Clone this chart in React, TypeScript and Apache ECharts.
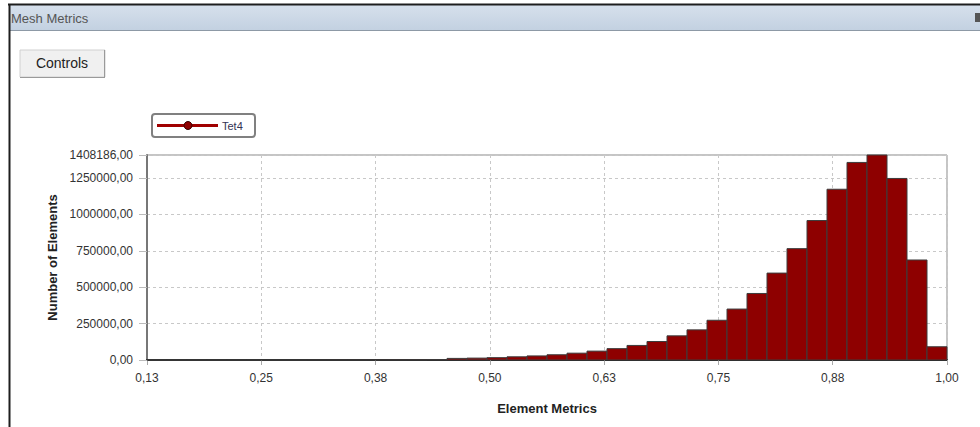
import React, { useEffect, useRef } from "react";
import * as echarts from "echarts";

const SERIES_NAME = "Tet4";
const X_TITLE = "Element Metrics";
const Y_TITLE = "Number of Elements";
const WINDOW_TITLE = "Mesh Metrics";
const BUTTON_LABEL = "Controls";

// histogram bins
const BIN_MIN = 0.125;
const BIN_WIDTH = 0.021875;
const counts = [
  20, 30, 40, 60, 80, 110, 150, 200, 280, 380,
  520, 700, 1000, 1500, 2400, 11000, 13000, 16000, 22000, 28000,
  36000, 47000, 61000, 78000, 100000, 127000, 166000, 207000, 273000, 350000,
  457000, 597000, 765000, 958000, 1173000, 1357000, 1408186, 1247000, 687000, 91000,
];

const X_MIN = 0.125;
const X_MAX = 1.0;
const X_INTERVAL = 0.125;
const Y_MIN = 0;
const Y_MAX = 1408186;
const Y_INTERVAL = 250000;

const fmt = (v: number) => v.toFixed(2).replace(".", ",");

export default function App() {
  const ref = useRef<HTMLDivElement>(null);
  useEffect(() => {
    document.body.style.margin = "0";
    if (!ref.current) return;
    const chart = echarts.init(ref.current, null, { renderer: "svg" });
    const data = counts.map((c, i) => [
      BIN_MIN + i * BIN_WIDTH,
      BIN_MIN + (i + 1) * BIN_WIDTH,
      c,
    ]);
    const font = "Liberation Sans";
    chart.setOption({
      animation: false,
      backgroundColor: "#ffffff",
      textStyle: { fontFamily: font },
      grid: {
        left: 147,
        top: 155,
        width: 800,
        height: 205,
        show: true,
        borderColor: "#8a8a8a",
        borderWidth: 1,
        backgroundColor: "transparent",
      },
      xAxis: {
        type: "value",
        min: X_MIN,
        max: X_MAX,
        interval: X_INTERVAL,
        name: X_TITLE,
        nameLocation: "middle",
        nameGap: 42,
        nameTextStyle: { fontWeight: "bold", fontSize: 13, color: "#222", fontFamily: font },
        axisLine: { show: true, onZero: false, lineStyle: { color: "#222", width: 2 } },
        axisTick: { show: true, length: 5, lineStyle: { color: "#aaa" } },
        axisLabel: { formatter: fmt, fontSize: 12, color: "#333", margin: 12, fontFamily: font },
        splitLine: { show: true, lineStyle: { color: "#c8c8c8", type: [3, 3] } },
      },
      yAxis: {
        type: "value",
        min: Y_MIN,
        max: Y_MAX,
        interval: Y_INTERVAL,
        name: Y_TITLE,
        nameLocation: "middle",
        nameGap: 82,
        nameTextStyle: { fontWeight: "bold", fontSize: 13, color: "#222", fontFamily: font },
        axisLine: { show: true, lineStyle: { color: "#777", width: 2 } },
        axisTick: { show: true, length: 8, lineStyle: { color: "#bbb" } },
        axisLabel: { formatter: fmt, fontSize: 12, color: "#333", margin: 14, fontFamily: font },
        splitLine: { show: true, lineStyle: { color: "#c8c8c8", type: [3, 3] } },
      },
      series: [
        {
          type: "custom",
          name: SERIES_NAME,
          data,
          encode: { x: [0, 1], y: 2 },
          renderItem: (params: any, api: any) => {
            const p0 = api.coord([api.value(0), api.value(2)]);
            const p1 = api.coord([api.value(1), 0]);
            return {
              type: "rect",
              shape: { x: p0[0], y: p0[1], width: p1[0] - p0[0], height: p1[1] - p0[1] },
              style: { fill: "#8e0000", stroke: "#3c3c3c", lineWidth: 1 },
            };
          },
        },
      ],
      graphic: [
        // title bar
        {
          type: "rect",
          shape: { x: 9, y: 5, width: 971, height: 25 },
          style: {
            fill: new echarts.graphic.LinearGradient(0, 0, 0, 1, [
              { offset: 0, color: "#d6e0ec" },
              { offset: 1, color: "#c3d1e1" },
            ]),
          },
        },
        { type: "line", shape: { x1: 9, y1: 30.5, x2: 980, y2: 30.5 }, style: { stroke: "#8d99a6", lineWidth: 1 } },
        { type: "line", shape: { x1: 8, y1: 4.5, x2: 980, y2: 4.5 }, style: { stroke: "#1e1e1e", lineWidth: 2 } },
        { type: "line", shape: { x1: 9.5, y1: 4, x2: 9.5, y2: 427 }, style: { stroke: "#1e1e1e", lineWidth: 2 } },
        {
          type: "text",
          x: 11,
          y: 18,
          style: { text: WINDOW_TITLE, fontSize: 13, fill: "#555", fontFamily: font, verticalAlign: "middle" },
        },
        { type: "rect", shape: { x: 975, y: 13, width: 5, height: 9 }, style: { fill: "#555" } },
        // Controls button
        { type: "rect", shape: { x: 20, y: 50, width: 85, height: 27 }, style: { fill: "#f0f0f0", stroke: "#d0d0d0", lineWidth: 1 } },
        { type: "line", shape: { x1: 104.5, y1: 50, x2: 104.5, y2: 77 }, style: { stroke: "#9a9a9a", lineWidth: 1 } },
        { type: "line", shape: { x1: 20, y1: 77.5, x2: 105, y2: 77.5 }, style: { stroke: "#9a9a9a", lineWidth: 1 } },
        {
          type: "text",
          x: 62,
          y: 63,
          style: { text: BUTTON_LABEL, fontSize: 14, fill: "#222", fontFamily: font, align: "center", verticalAlign: "middle" },
        },
        // legend
        {
          type: "rect",
          shape: { x: 152, y: 114, width: 103, height: 23, r: 3 },
          style: { fill: "#fff", stroke: "#808080", lineWidth: 2 },
        },
        { type: "line", shape: { x1: 157, y1: 125.5, x2: 218, y2: 125.5 }, style: { stroke: "#a00000", lineWidth: 3 } },
        { type: "circle", shape: { cx: 188, cy: 125.5, r: 4 }, style: { fill: "#8e0000", stroke: "#3a0000", lineWidth: 1 } },
        {
          type: "text",
          x: 222,
          y: 126,
          style: { text: SERIES_NAME, fontSize: 11, fill: "#333355", fontFamily: font, verticalAlign: "middle" },
        },
      ],
    });
    return () => chart.dispose();
  }, []);
  return <div ref={ref} style={{ width: 980, height: 427 }} />;
}
